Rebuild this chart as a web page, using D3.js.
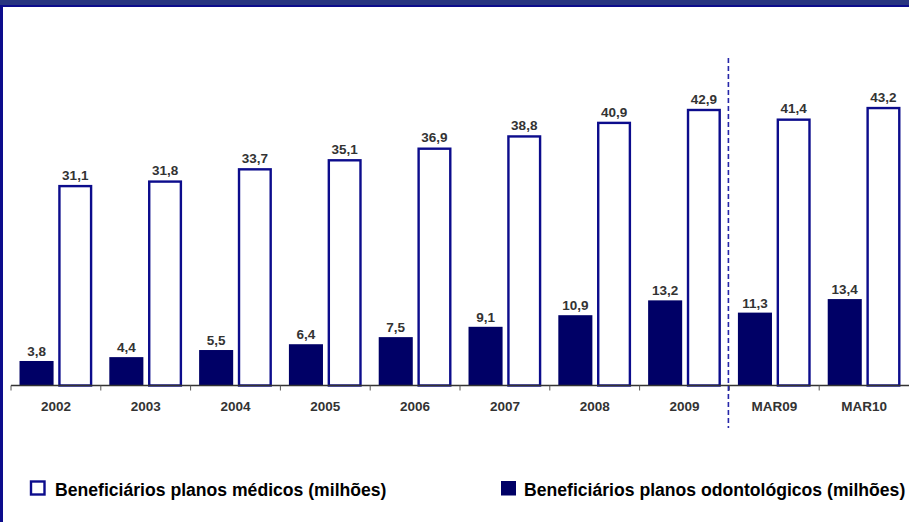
<!DOCTYPE html>
<head>
    <meta charset="utf-8">
    <script src="https://d3js.org/d3.v7.min.js"></script>
</head>
<body>
    <svg class="chart" width="909" height="522"></svg>
</body>
<script>
var categories = ["2002","2003","2004","2005","2006","2007","2008","2009","MAR09","MAR10"];
var medicos = [31.1, 31.8, 33.7, 35.1, 36.9, 38.8, 40.9, 42.9, 41.4, 43.2];
var odonto = [3.8, 4.4, 5.5, 6.4, 7.5, 9.1, 10.9, 13.2, 11.3, 13.4];
var legendLabels = ["Beneficiários planos médicos (milhões)", "Beneficiários planos odontológicos (milhões)"];

var navy = "#000066", edge = "#0c0c8c";
var baseY = 385.5;

var chart = d3.select(".chart").style("background", "#fff");
d3.select("body").style("margin", "0");

// frame: top band + left border
chart.append("rect").attr("x",0).attr("y",0).attr("width",909).attr("height",5).attr("fill","#283580");
chart.append("rect").attr("x",0).attr("y",5).attr("width",909).attr("height",2).attr("fill",edge);
chart.append("rect").attr("x",0).attr("y",5).attr("width",3).attr("height",517).attr("fill",edge);

var x0 = d3.scaleBand().domain(categories).range([11, 909]);
var x1 = d3.scaleBand().domain(["odo","med"]).range([0, x0.bandwidth()])
    .paddingInner(0.12).paddingOuter(0.22);
var y = d3.scaleLinear().domain([0, 50]).range([baseY, baseY - 50*6.45]);

var rows = categories.map(function(c, i){ return {cat: c, odo: odonto[i], med: medicos[i]}; });

var g = chart.selectAll("g.cat").data(rows).enter().append("g")
    .attr("class","cat")
    .attr("transform", function(d){ return "translate(" + x0(d.cat) + ",0)"; });

g.append("rect")
    .attr("x", x1("odo")).attr("width", x1.bandwidth())
    .attr("y", function(d){ return y(d.odo); })
    .attr("height", function(d){ return baseY - y(d.odo); })
    .attr("fill", navy);

g.append("rect")
    .attr("x", x1("med") + 1.2).attr("width", x1.bandwidth() - 2.4)
    .attr("y", function(d){ return y(d.med) + 1.2; })
    .attr("height", function(d){ return baseY - y(d.med) - 1.2; })
    .attr("fill", "#fff").attr("stroke", edge).attr("stroke-width", 2.4);

function fmt(v){ return v.toFixed(1).replace(".", ","); }

g.append("text").attr("class","val")
    .attr("x", x1("odo") + x1.bandwidth()/2)
    .attr("y", function(d){ return y(d.odo) - 5; })
    .text(function(d){ return fmt(d.odo); });
g.append("text").attr("class","val")
    .attr("x", x1("med") + x1.bandwidth()/2)
    .attr("y", function(d){ return y(d.med) - 5; })
    .text(function(d){ return fmt(d.med); });

// axis
chart.append("line").attr("x1", 11).attr("x2", 909).attr("y1", baseY).attr("y2", baseY)
    .attr("stroke", "#333").attr("stroke-width", 1.5);
chart.selectAll("line.tick").data(categories).enter().append("line")
    .attr("class","tick")
    .attr("x1", function(d){ return x0(d); }).attr("x2", function(d){ return x0(d); })
    .attr("y1", baseY).attr("y2", baseY + 5)
    .attr("stroke", "#555").attr("stroke-width", 1);
chart.selectAll("text.cat").data(categories).enter().append("text")
    .attr("class","catlab")
    .attr("x", function(d){ return x0(d) + x0.bandwidth()/2; })
    .attr("y", 410.5)
    .text(function(d){ return d; });

// dashed separator between 2009 and MAR09
var sepX = x0("MAR09") - 1;
chart.append("line").attr("x1", sepX).attr("x2", sepX).attr("y1", 58).attr("y2", 428)
    .attr("stroke", "#2626a8").attr("stroke-width", 1.6).attr("stroke-dasharray", "5,3");

// legend
chart.append("rect").attr("x", 31).attr("y", 481.5).attr("width", 13.5).attr("height", 13)
    .attr("fill", "#fff").attr("stroke", edge).attr("stroke-width", 2.4);
chart.append("text").attr("class","leg").attr("x", 55).attr("y", 495.5).text(legendLabels[0]);
chart.append("rect").attr("x", 501).attr("y", 481).attr("width", 15).attr("height", 14.5)
    .attr("fill", navy);
chart.append("text").attr("class","leg").attr("x", 524).attr("y", 495.5).text(legendLabels[1]);
</script>
<style>
    .val, .catlab {
        font: bold 13.5px "Liberation Sans", Arial, sans-serif;
        fill: #333;
        text-anchor: middle;
    }
    .leg {
        font: bold 17.6px "Liberation Sans", Arial, sans-serif;
        fill: #000;
    }
</style>
